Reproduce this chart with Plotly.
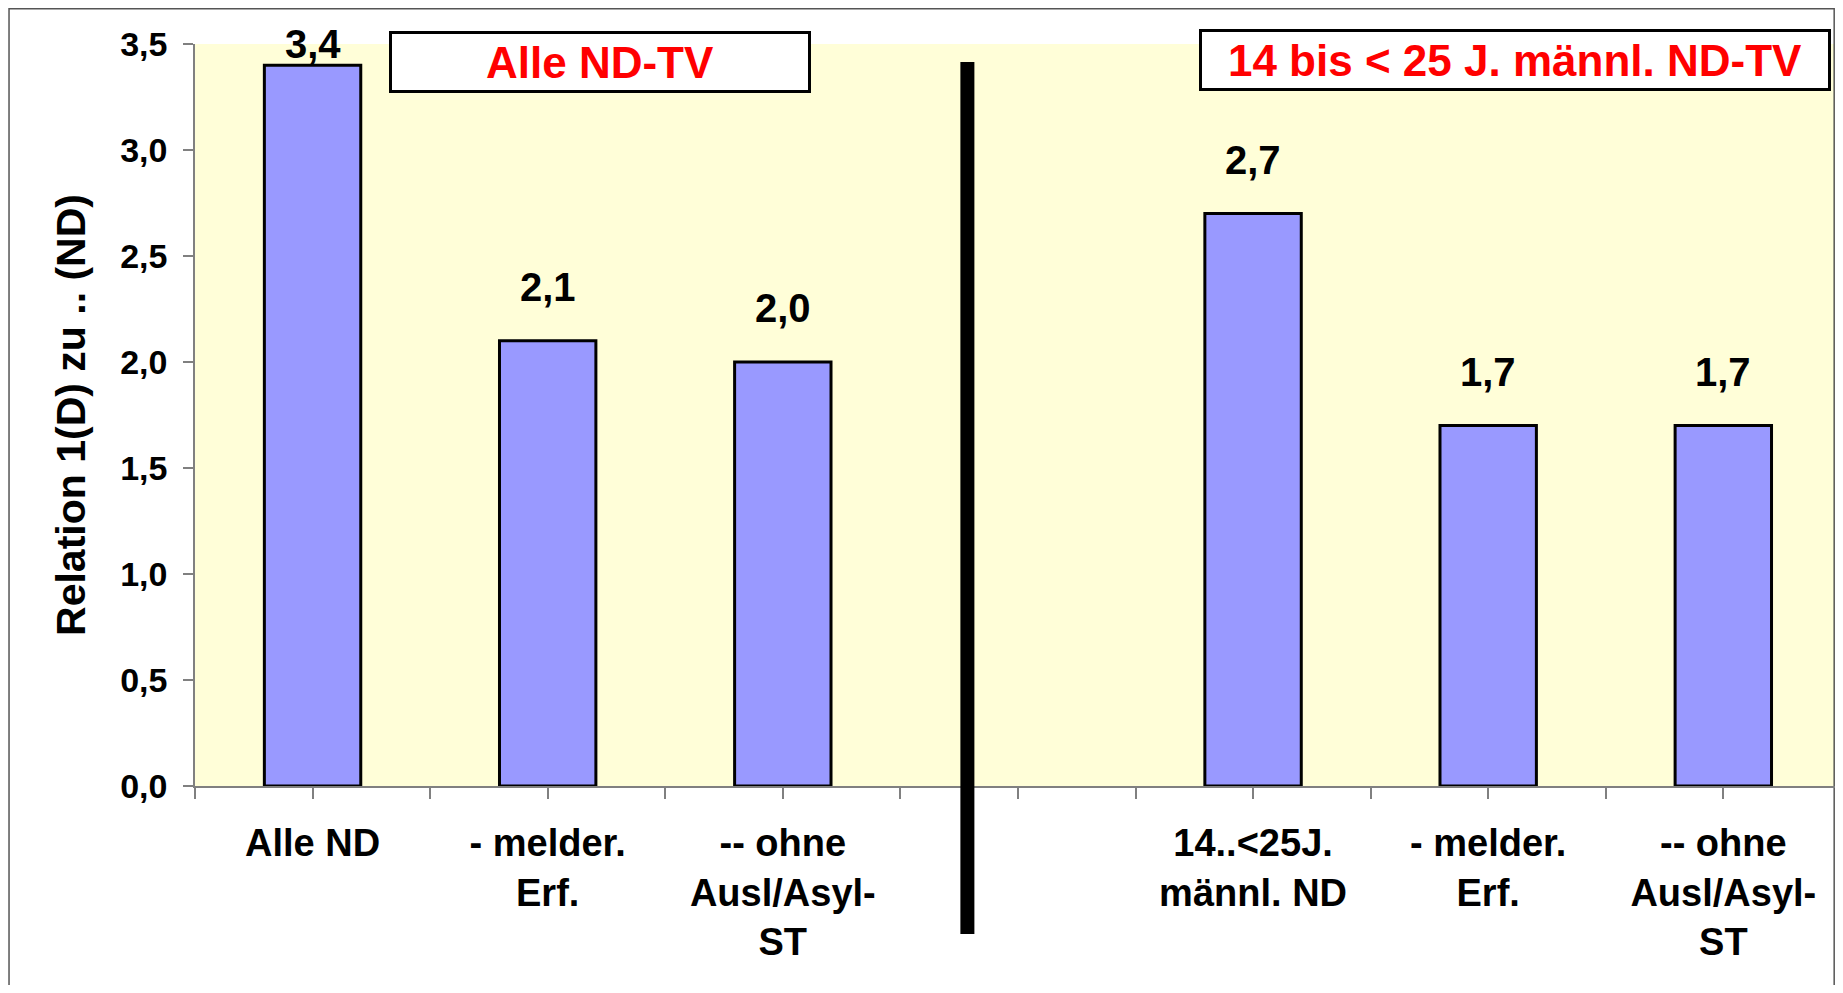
"""Relation 1(D) zu .. (ND) - bar chart with two panel headers."""
import plotly.graph_objects as go

# data
CATEGORIES = [
    "Alle ND",
    "- melder.<br>Erf.",
    "-- ohne<br>Ausl/Asyl-<br>ST",
    "",
    "14..&lt;25J.<br>männl. ND",
    "- melder.<br>Erf.",
    "-- ohne<br>Ausl/Asyl-<br>ST",
]
VALUES = [3.4, 2.1, 2.0, None, 2.7, 1.7, 1.7]
Y_TICKS = [0.0, 0.5, 1.0, 1.5, 2.0, 2.5, 3.0, 3.5]
HEADER_LEFT = "Alle ND-TV"
HEADER_RIGHT = "14 bis &lt; 25 J. männl. ND-TV"
Y_TITLE = "Relation 1(D) zu .. (ND)"

FONT = "Liberation Sans, Arial, sans-serif"
BAR_COLOR = "#9999FF"
BG_COLOR = "#FFFED8"
Y_MAX = 3.5
LABEL_OFFSET = 0.255  # data units above bar top

x_pos = list(range(len(CATEGORIES)))

fig = go.Figure()
fig.add_trace(
    go.Bar(
        x=x_pos,
        y=VALUES,
        width=0.41,
        marker=dict(color=BAR_COLOR, line=dict(color="#000000", width=3)),
        hoverinfo="skip",
        showlegend=False,
    )
)

# value labels above bars (squeezed into the plot area like the original)
annotations = []
for x, v in zip(x_pos, VALUES):
    if v is None:
        continue
    annotations.append(
        dict(
            x=x, y=min(v + LABEL_OFFSET, Y_MAX), xref="x", yref="y",
            text=f"{v:.1f}".replace(".", ","), showarrow=False,
            font=dict(family=FONT, size=40, color="#000000", weight="bold"),
        )
    )

# panel headers
for text, cx, cy, w in [
    (HEADER_LEFT, 0.247, 0.9757, 416),
    (HEADER_RIGHT, 0.805, 0.978, 626),
]:
    annotations.append(
        dict(
            x=cx, y=cy, xref="paper", yref="paper", text=text, showarrow=False,
            xanchor="center", yanchor="middle",
            width=w, height=56, borderpad=0,
            bgcolor="#FFFFFF", bordercolor="#000000", borderwidth=3,
            font=dict(family=FONT, size=44, color="#FF0000", weight="bold"),
        )
    )

tickvals = [i / 2 - 0.5 for i in range(2 * len(CATEGORIES) + 1)]
ticktext = [CATEGORIES[int(t)] if t == int(t) else "" for t in tickvals]

# page body has an 8px margin, so the figure is 16px smaller than the window
fig.update_layout(
    width=1827,
    height=977,
    margin=dict(l=187, r=0, t=36, b=199),
    paper_bgcolor="#FFFFFF",
    plot_bgcolor=BG_COLOR,
    separators=",.",
    font=dict(family=FONT, color="#000000"),
    annotations=annotations,
    shapes=[
        # outer frame
        dict(type="rect", xref="paper", yref="paper",
             x0=-0.1134, x1=0.9995, y0=1.0475, y1=-0.3,
             line=dict(color="#555555", width=1.5), layer="below"),
        # divider between the two panels
        dict(type="line", xref="x", yref="paper",
             x0=2.785, x1=2.785, y0=0.9757, y1=-0.1995,
             line=dict(color="#000000", width=14)),
    ],
)

fig.update_xaxes(
    range=[-0.5, len(CATEGORIES) - 0.525],
    tickvals=tickvals,
    ticktext=ticktext,
    ticks="outside",
    ticklen=11,
    tickcolor="#808080",
    tickwidth=1.5,
    showline=True,
    linecolor="#808080",
    linewidth=1.5,
    showgrid=False,
    zeroline=False,
    tickangle=0,
    ticklabelstandoff=12,
    tickfont=dict(family=FONT, size=38, color="#000000", weight="bold"),
)

fig.update_yaxes(
    range=[0, Y_MAX],
    tickvals=Y_TICKS,
    tickformat=".1f",
    ticks="outside",
    ticklen=10,
    tickcolor="#808080",
    tickwidth=1.5,
    showline=True,
    linecolor="#808080",
    linewidth=1.5,
    showgrid=False,
    zeroline=False,
    ticklabelstandoff=9,
    tickfont=dict(family=FONT, size=34, color="#000000", weight="bold"),
    title=dict(
        text=Y_TITLE,
        standoff=22,
        font=dict(family=FONT, size=41, color="#000000", weight="bold"),
    ),
)

fig.write_html("out.html")
